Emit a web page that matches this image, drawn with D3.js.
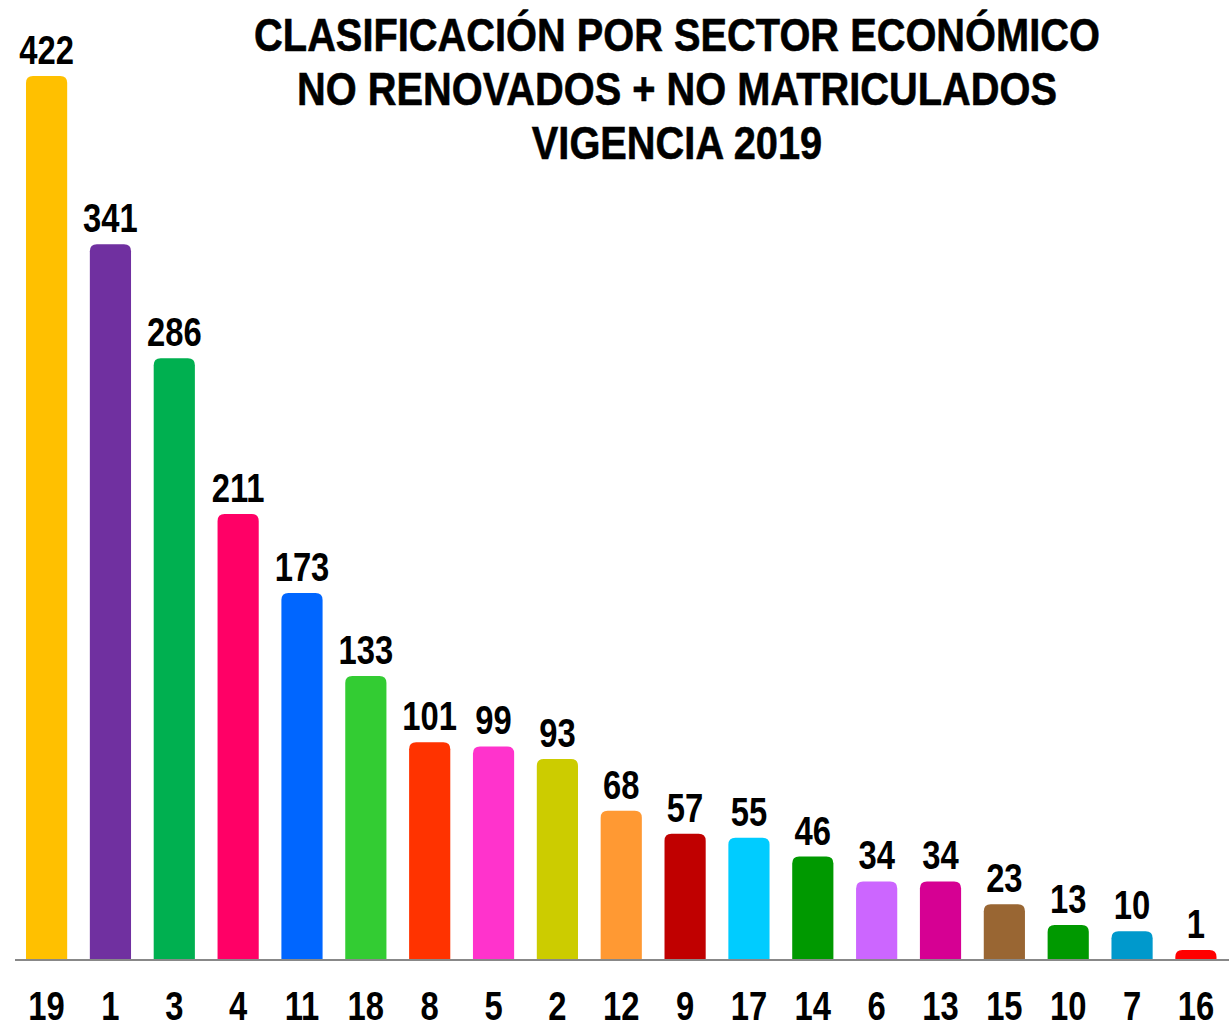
<!DOCTYPE html>
<html>
<head>
<meta charset="utf-8">
<script src="https://cdn.jsdelivr.net/npm/d3@7"></script>
<style>
  html, body { margin: 0; padding: 0; background: #fff; }
  svg { display: block; }
  text { font-family: "Liberation Sans", Arial, sans-serif; font-weight: bold; fill: #000; }
</style>
</head>
<body>
<div id="chart"></div>
<script>
// Data
const categories = ["19", "1", "3", "4", "11", "18", "8", "5", "2", "12", "9", "17", "14", "6", "13", "15", "10", "7", "16"];
const values = [422, 341, 286, 211, 173, 133, 101, 99, 93, 68, 57, 55, 46, 34, 34, 23, 13, 10, 1];
const colors = ["#FFC000", "#7030A0", "#00B050", "#FF0066", "#0066FF", "#33CC33", "#FF3300", "#FF33CC",
                "#CCCC00", "#FF9933", "#C00000", "#00CCFF", "#009900", "#CC66FF", "#D60093", "#996633",
                "#009900", "#0099CC", "#FF0000"];
const titleLines = ["CLASIFICACIÓN POR SECTOR ECONÓMICO", "NO RENOVADOS + NO MATRICULADOS", "VIGENCIA 2019"];

const width = 1229;
const height = 1028;
const baseline = 960;
const cap = 8;      // rounded cap adds a little height on top of every bar
const radius = 7;
const narrow = 0.82; // no narrow font installed, squeeze the regular one

const svg = d3.select("#chart").append("svg")
  .attr("width", width)
  .attr("height", height);

// Scales
const x = d3.scaleBand()
  .domain(categories)
  .range([14.5, 1228])
  .paddingInner(0.355)
  .paddingOuter(0.18);

const y = d3.scaleLinear()
  .domain([0, d3.max(values)])
  .range([baseline, 76 + cap]);

// helper: narrow text at (px, py)
function narrowText(sel, px, py, sx = narrow) {
  sel.attr("transform", (d, i) => `translate(${px(d, i)},${py(d, i)}) scale(${sx},1)`)
    .attr("text-anchor", "middle");
}

// Title
svg.append("g")
  .selectAll("text")
  .data(titleLines)
  .join("text")
    .call(narrowText, () => 677, (d, i) => 51 + i * 54, 0.865)
    .style("font-size", "46px")
    .style("stroke", "#000")
    .style("stroke-width", 0.6)
    .text(d => d);

// Bars with rounded tops
function barPath(x0, w, top, bottom) {
  const r = Math.min(radius, w / 2, (bottom - top));
  return `M${x0},${bottom} V${top + r} Q${x0},${top} ${x0 + r},${top} H${x0 + w - r} Q${x0 + w},${top} ${x0 + w},${top + r} V${bottom} Z`;
}

const data = categories.map((c, i) => ({cat: c, value: values[i], color: colors[i]}));

svg.append("g")
  .selectAll("path")
  .data(data)
  .join("path")
    .attr("d", d => barPath(x(d.cat), x.bandwidth(), y(d.value) - cap, baseline + 1))
    .attr("fill", d => d.color);

// Baseline
svg.append("line")
  .attr("x1", 15)
  .attr("x2", width)
  .attr("y1", baseline)
  .attr("y2", baseline)
  .attr("stroke", "#888")
  .attr("stroke-width", 2);

// Value labels
svg.append("g")
  .selectAll("text")
  .data(data)
  .join("text")
    .call(narrowText, d => x(d.cat) + x.bandwidth() / 2, d => y(d.value) - cap - 12)
    .style("font-size", "40px")
    .text(d => d.value);

// Category labels
svg.append("g")
  .selectAll("text")
  .data(data)
  .join("text")
    .call(narrowText, d => x(d.cat) + x.bandwidth() / 2, () => 1020)
    .style("font-size", "40px")
    .text(d => d.cat);
</script>
</body>
</html>
